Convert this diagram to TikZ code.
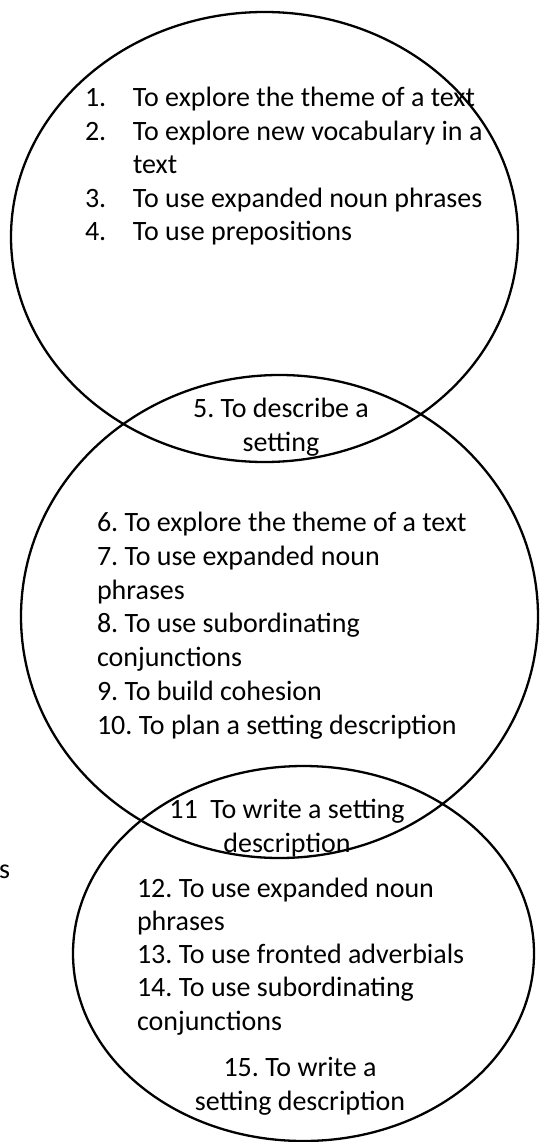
\documentclass[tikz,border=0pt]{standalone}
\usepackage{fontspec}
\setmainfont{Carlito}
\frenchspacing
\begin{document}
\begin{tikzpicture}[x=1pt,y=-1pt,
  ring/.style={draw=black,line width=2.3pt},
  txt/.style={inner sep=0pt,outer sep=0pt,align=left,anchor=base west,
    font=\fontsize{28}{33.4}\selectfont},
  ctxt/.style={inner sep=0pt,outer sep=0pt,align=center,anchor=base,
    font=\fontsize{28}{33.4}\selectfont}]
\useasboundingbox (0,0) rectangle (539,1142);
\newcommand{\numbox}[1]{\makebox[48pt][l]{#1}}
% ellipses
\draw[ring] (264.5,237) ellipse [x radius=253.5, y radius=225];
\draw[ring] (279.5,616.5) ellipse [x radius=258.5, y radius=241.5];
\draw[ring] (303.5,953.5) ellipse [x radius=230.5, y radius=187.5];
% texts (anchored at the baseline of the last line)
\node[txt] (listA) at (85,240.5) {\numbox{1.}To explore the theme of a text\\
\numbox{2.}To explore new vocabulary in a\\
\hspace*{48pt}text\\
\numbox{3.}To use expanded noun phrases\\
\numbox{4.}To use prepositions};
\node[ctxt] (five) at (281,451) {5. To describe a\\setting};
\node[txt,font=\fontsize{28}{33.7}\selectfont] (listB) at (97,734) {6. To explore the theme of a text\\
7. To use expanded noun\\
phrases\\
8. To use subordinating\\
conjunctions\\
9. To build cohesion\\
10. To plan a setting description};
\node[ctxt] (eleven) at (287,852) {11\ \ To write a setting\\description};
\node[txt,font=\fontsize{28}{33.25}\selectfont] (listC) at (137,1030) {12. To use expanded noun\\
phrases\\
13. To use fronted adverbials\\
14. To use subordinating\\
conjunctions};
\node[ctxt] (fifteen) at (300,1110) {15. To write a\\setting description};
\node[txt] (stray) at (-1,878) {s};
\end{tikzpicture}
\end{document}
